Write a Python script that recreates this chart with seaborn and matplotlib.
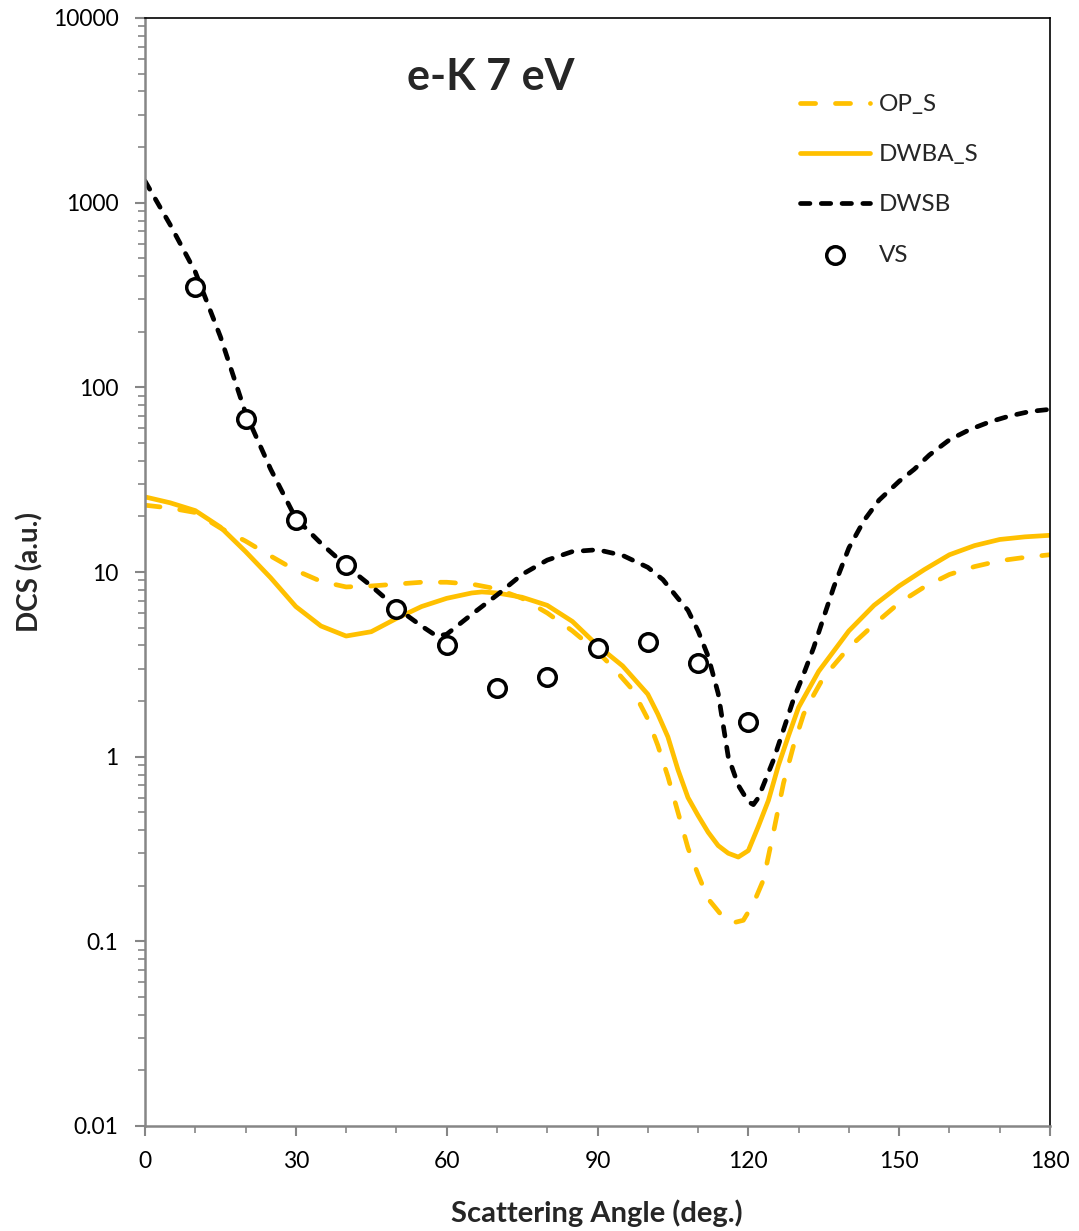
import matplotlib
matplotlib.use("Agg")
import matplotlib.pyplot as plt
import matplotlib.ticker as mticker
import numpy as np
import seaborn as sns

# DCS curves for e-K elastic scattering at 7 eV
angle_op = [0, 5, 10, 15, 20, 25, 30, 35, 40, 45, 50, 55, 60, 65, 70, 75, 80, 85,
            90, 93, 95, 97, 100, 102, 104, 106, 108, 110, 112, 115, 117, 119, 121,
            123, 125, 127, 129, 131, 133, 135, 140, 145, 150, 155, 160, 165, 170,
            175, 180]
dcs_op = [23.0, 22.2, 21.0, 17.3, 14.7, 12.2, 10.2, 8.9, 8.3, 8.4, 8.6, 8.8, 8.8,
          8.6, 8.1, 7.2, 6.0, 4.8, 3.7, 3.06, 2.65, 2.3, 1.6, 1.15, 0.78, 0.5,
          0.32, 0.23, 0.17, 0.135, 0.126, 0.13, 0.16, 0.215, 0.39, 0.72, 1.15,
          1.7, 2.16, 2.7, 3.9, 5.2, 6.8, 8.3, 9.7, 10.7, 11.5, 12.0, 12.4]

angle_dwba = [0, 5, 10, 15, 20, 25, 30, 35, 40, 45, 50, 55, 60, 65, 67, 70, 75, 80,
              85, 90, 95, 100, 102, 104, 106, 108, 110, 112, 114, 116, 118, 120,
              122, 124, 126, 128, 130, 134, 140, 145, 150, 155, 160, 165, 170, 175,
              180]
dcs_dwba = [25.5, 23.7, 21.5, 17.5, 12.9, 9.3, 6.5, 5.1, 4.5, 4.75, 5.6, 6.5, 7.2,
            7.7, 7.8, 7.7, 7.3, 6.6, 5.4, 4.0, 3.1, 2.18, 1.7, 1.28, 0.85, 0.6,
            0.48, 0.39, 0.33, 0.3, 0.286, 0.31, 0.42, 0.58, 0.9, 1.3, 1.85, 2.9,
            4.8, 6.6, 8.4, 10.3, 12.4, 13.9, 15.0, 15.5, 15.8]

angle_dwsb = [0, 5, 10, 15, 20, 25, 30, 35, 40, 45, 50, 55, 58, 60, 65, 70, 75, 80,
              85, 90, 95, 100, 103, 106, 108, 110, 112, 114, 116, 118, 120, 121,
              122, 125, 127, 129, 131, 133, 135, 137, 140, 143, 146, 150, 153, 156,
              160, 164, 168, 172, 176, 180]
dcs_dwsb = [1310, 760, 422, 188, 72.6, 36.0, 19.5, 14.3, 10.8, 8.4, 6.4, 5.1, 4.5,
            4.6, 5.9, 7.5, 9.7, 11.6, 12.9, 13.2, 12.3, 10.6, 9.1, 7.2, 6.2, 4.8,
            3.5, 2.2, 1.0, 0.7, 0.57, 0.55, 0.6, 0.96, 1.4, 2.05, 2.8, 3.9, 5.7,
            8.3, 13.5, 19.0, 24.5, 31.0, 36.0, 43.0, 52.0, 59.0, 65.0, 70.0, 74.0,
            76.0]

angle_vs = [10, 20, 30, 40, 50, 60, 70, 80, 90, 100, 110, 120]
dcs_vs = [350, 67, 19.1, 10.9, 6.3, 4.0, 2.36, 2.7, 3.88, 4.18, 3.2, 1.54]

x_ticks = [0, 30, 60, 90, 120, 150, 180]
y_ticks = [0.01, 0.1, 1, 10, 100, 1000, 10000]
y_tick_labels = ["0.01", "0.1", "1", "10", "100", "1000", "10000"]

GOLD = "#FFC000"
GREY = "#868686"

sns.set_style("ticks")
plt.rcParams["font.family"] = ["Lato", "DejaVu Sans"]

fig = plt.figure(figsize=(10.79, 12.31), dpi=100)
ax = fig.add_axes([145 / 1079, 1 - 1126 / 1231, 905 / 1079, 1108 / 1231])

lw = 3.4
sns.lineplot(x=angle_op, y=dcs_op, ax=ax, color=GOLD, lw=lw, label="OP_S",
             sort=False)
sns.lineplot(x=angle_dwba, y=dcs_dwba, ax=ax, color=GOLD, lw=lw, label="DWBA_S",
             sort=False)
sns.lineplot(x=angle_dwsb, y=dcs_dwsb, ax=ax, color="black", lw=lw, label="DWSB",
             sort=False)
sns.scatterplot(x=angle_vs, y=dcs_vs, ax=ax, marker="o", s=160,
                facecolor="white", edgecolor="black", linewidth=2.5,
                label="VS", zorder=5)

lines = ax.get_lines()
lines[0].set_dashes([3.2, 4.2])
lines[0].set_dash_capstyle("round")
lines[2].set_dashes([2.0, 2.4])
lines[2].set_dash_capstyle("round")
for ln in lines:
    ln.set_solid_capstyle("round")
    ln.set_solid_joinstyle("round")
    ln.set_dash_joinstyle("round")

ax.set_yscale("log")
ax.set_xlim(0, 180)
ax.set_ylim(0.01, 10000)

ax.set_xticks(x_ticks)
ax.xaxis.set_minor_locator(mticker.MultipleLocator(10))
ax.yaxis.set_major_locator(mticker.FixedLocator(y_ticks))
ax.yaxis.set_major_formatter(mticker.FixedFormatter(y_tick_labels))
ax.yaxis.set_minor_locator(mticker.LogLocator(base=10, subs=np.arange(2, 10)))
ax.yaxis.set_minor_formatter(mticker.NullFormatter())

ax.tick_params(axis="both", which="major", direction="out", length=7, width=1.5,
               color=GREY, labelsize=16.5, labelcolor="black")
ax.tick_params(axis="both", which="minor", direction="out", length=5, width=1.2,
               color=GREY)
ax.tick_params(axis="x", which="major", pad=11)
ax.tick_params(axis="y", which="major", pad=12)

for side in ("left", "bottom"):
    ax.spines[side].set_color(GREY)
    ax.spines[side].set_linewidth(1.8)
for side in ("top", "right"):
    ax.spines[side].set_visible(True)
    ax.spines[side].set_color("black")
    ax.spines[side].set_linewidth(1.2)

ax.set_xlabel("Scattering Angle (deg.)", fontsize=21, fontweight="bold")
ax.set_ylabel("DCS (a.u.)", fontsize=20, fontweight="bold")
ax.xaxis.label.set_va("center")
ax.xaxis.set_label_coords((597 - 145) / 905, -(1213 - 1126) / 1108)
ax.yaxis.label.set_va("center")
ax.yaxis.set_label_coords(-(145 - 30) / 905, 0.5)

ax.text((491 - 145) / 905, (1126 - 77) / 1108, "e-K 7 eV", transform=ax.transAxes,
        ha="center", va="center", fontsize=31, fontweight="bold")

handles, labels = ax.get_legend_handles_labels()
ax.legend(handles, labels, loc="upper left",
          bbox_to_anchor=((800 - 145) / 905, (1126 - 94) / 1108),
          frameon=False, fontsize=17.5, handlelength=2.9, handletextpad=0.35,
          labelspacing=1.2, borderpad=0, borderaxespad=0, numpoints=1,
          markerscale=1.0)

fig.savefig("out.png", dpi=100, facecolor="white")
